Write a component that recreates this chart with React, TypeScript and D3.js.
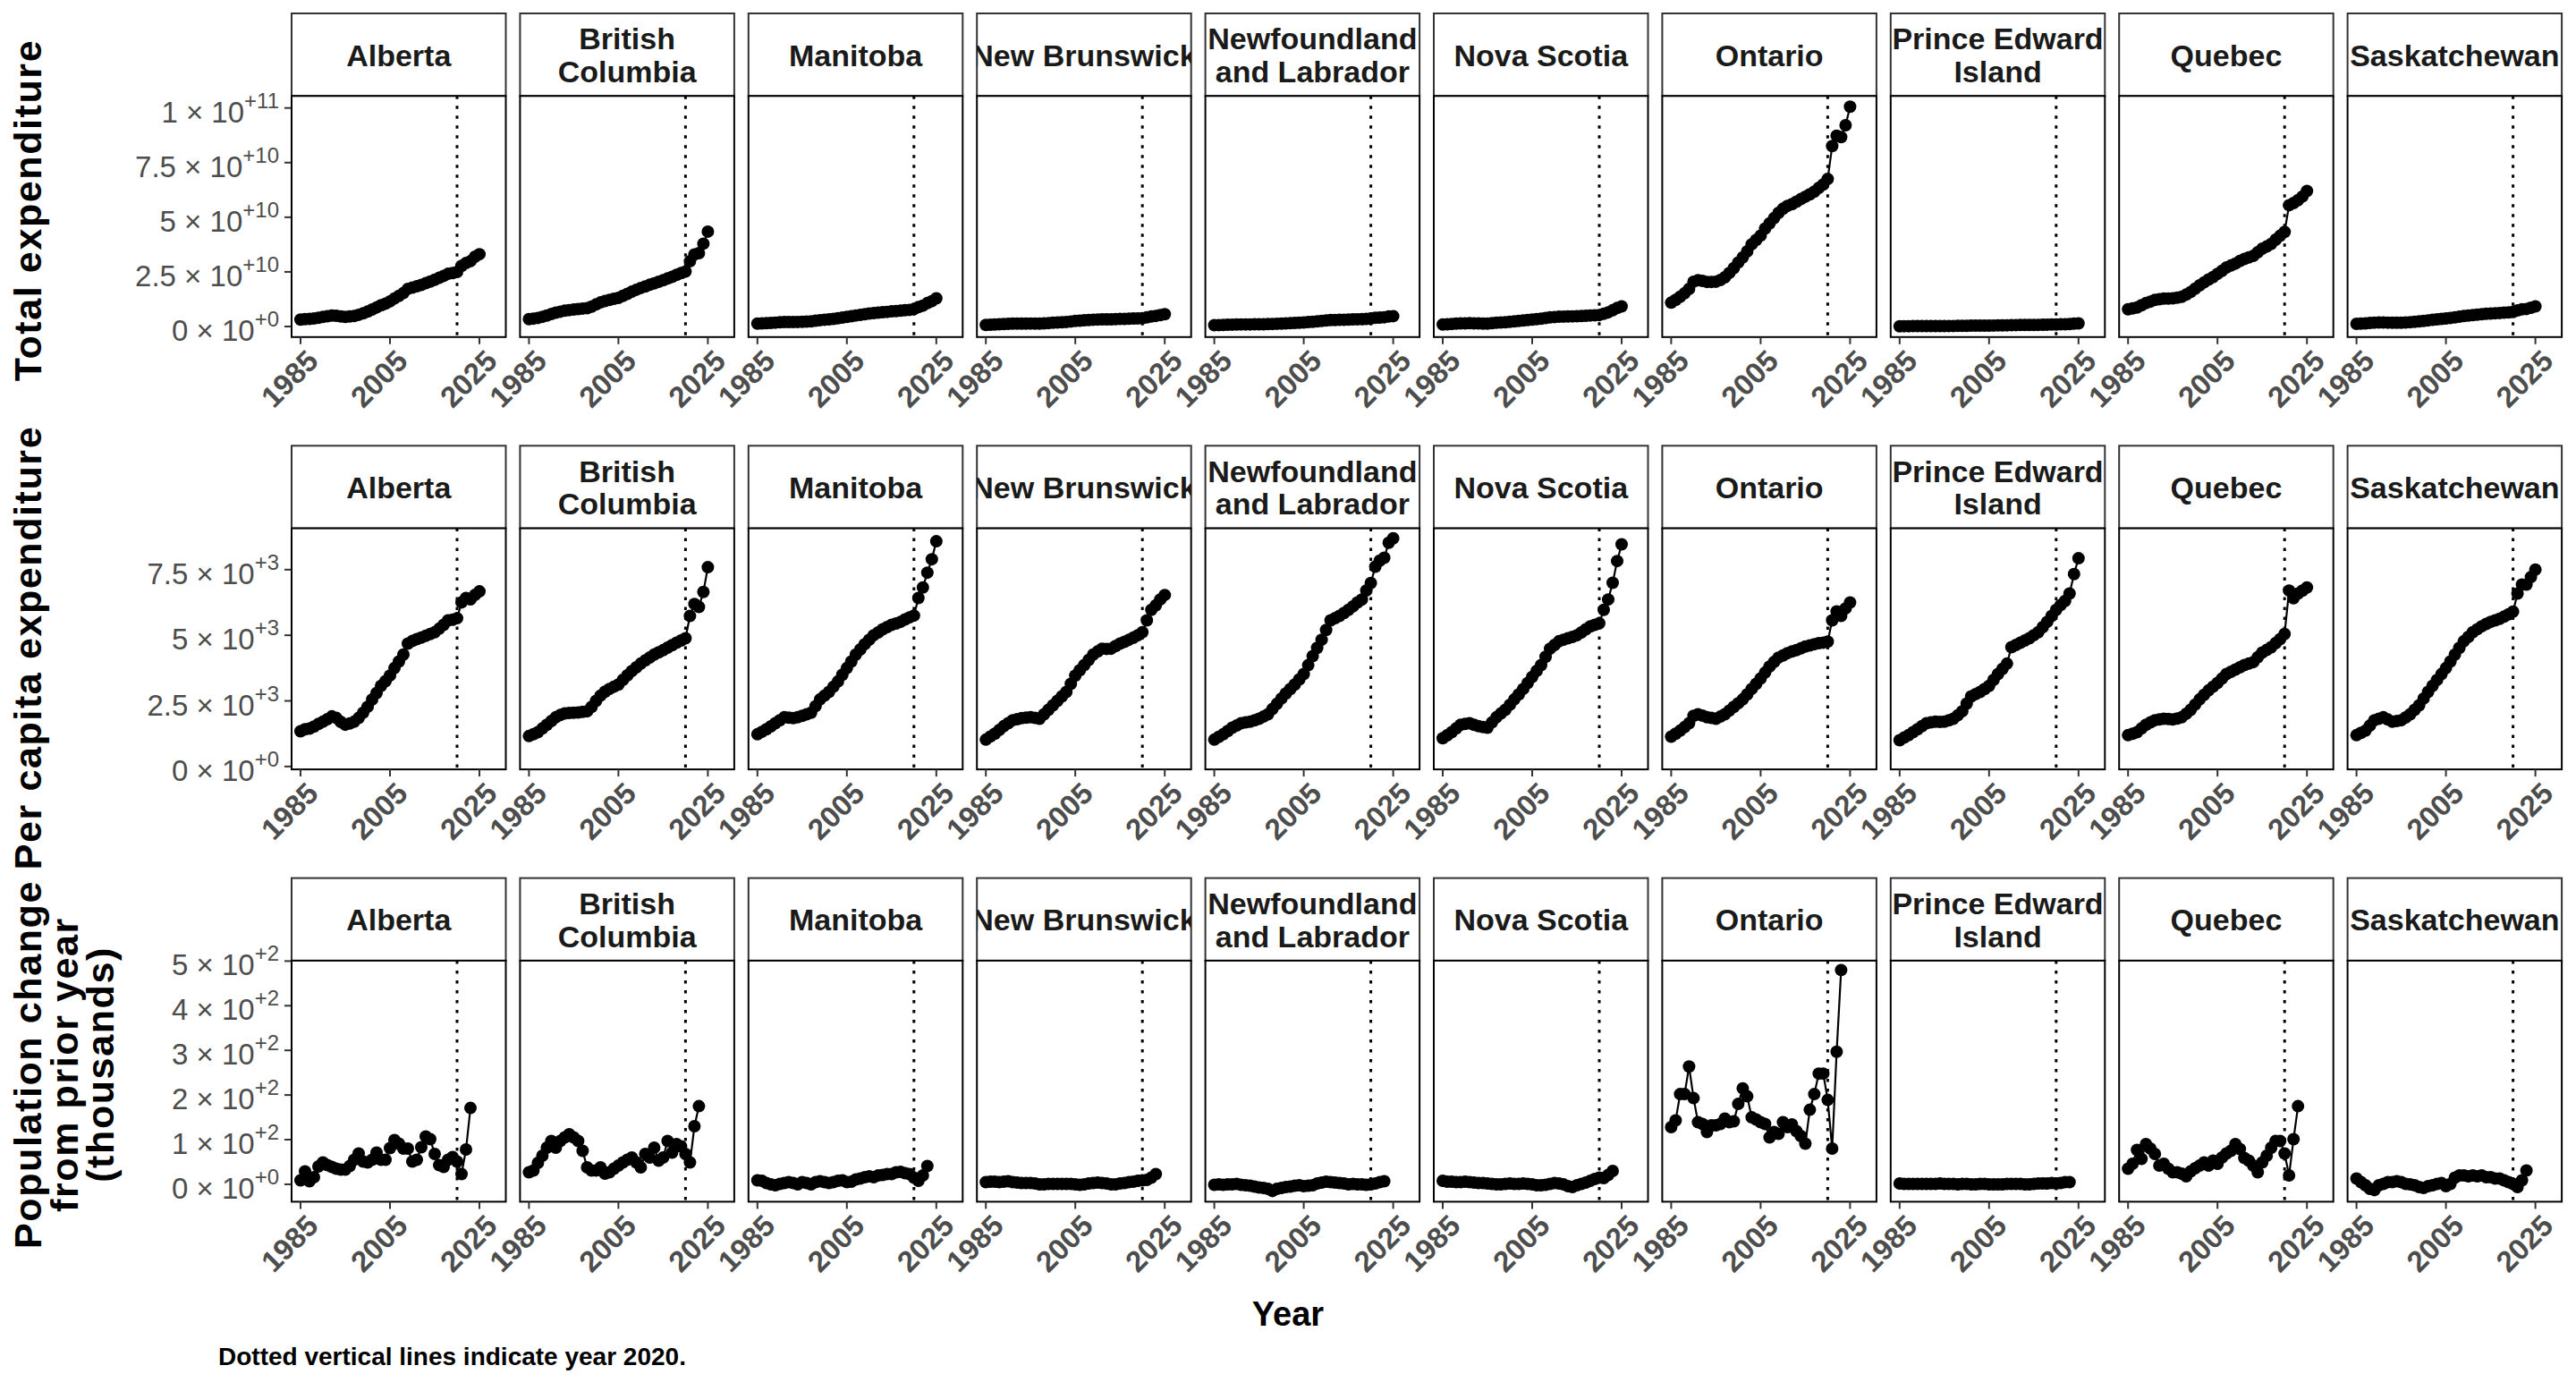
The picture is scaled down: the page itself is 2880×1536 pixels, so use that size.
import React from 'react';
import * as d3 from 'd3';

// provinces shown left to right in every row
const provinces = [
  'Alberta', 'British Columbia', 'Manitoba', 'New Brunswick', 'Newfoundland and Labrador',
  'Nova Scotia', 'Ontario', 'Prince Edward Island', 'Quebec', 'Saskatchewan',
];
const stripLines = [
  ['Alberta'], ['British', 'Columbia'], ['Manitoba'], ['New Brunswick'], ['Newfoundland', 'and Labrador'],
  ['Nova Scotia'], ['Ontario'], ['Prince Edward', 'Island'], ['Quebec'], ['Saskatchewan'],
];

const expYears = [
  1985, 1986, 1987, 1988, 1989, 1990, 1991, 1992, 1993, 1994, 1995, 1996, 1997, 1998,
  1999, 2000, 2001, 2002, 2003, 2004, 2005, 2006, 2007, 2008, 2009, 2010, 2011, 2012,
  2013, 2014, 2015, 2016, 2017, 2018, 2019, 2020, 2021, 2022, 2023, 2024, 2025,
];
const popYears = expYears.slice(0, 39); // 1985 - 2023

// total expenditure, billions of dollars
const totAB = [3.16, 3.38, 3.44, 3.66, 4.0, 4.35, 4.66, 5.02, 4.92, 4.59, 4.38, 4.56, 4.83, 5.37, 6.05, 6.82, 7.8, 8.74, 9.73, 10.47, 11.51, 12.83, 14.04, 15.3, 17.24, 17.83, 18.38, 19.05, 19.82, 20.6, 21.38, 22.26, 23.17, 24.12, 24.48, 24.97, 27.76, 29.03, 29.92, 31.96, 33.09];
const totBC = [3.38, 3.63, 3.92, 4.45, 5.01, 5.69, 6.32, 6.8, 7.22, 7.51, 7.73, 7.97, 8.22, 8.37, 9.11, 10.1, 11.02, 11.69, 12.17, 12.65, 13.13, 14.03, 14.96, 15.93, 16.82, 17.64, 18.34, 19.09, 19.78, 20.45, 21.19, 21.97, 22.73, 23.63, 24.43, 25.17, 29.84, 32.95, 33.56, 37.9, 43.43];
const totMB = [1.33, 1.43, 1.54, 1.66, 1.79, 1.94, 2.07, 2.05, 2.04, 2.09, 2.18, 2.25, 2.32, 2.61, 2.91, 3.11, 3.27, 3.5, 3.74, 4.06, 4.43, 4.73, 5.06, 5.33, 5.6, 5.89, 6.15, 6.33, 6.53, 6.69, 6.96, 7.09, 7.28, 7.45, 7.62, 7.94, 8.86, 9.55, 10.71, 11.61, 12.87];
const totNB = [0.74, 0.82, 0.9, 1.0, 1.11, 1.2, 1.28, 1.31, 1.34, 1.36, 1.37, 1.35, 1.33, 1.46, 1.58, 1.71, 1.83, 1.95, 2.08, 2.3, 2.53, 2.68, 2.82, 2.96, 3.12, 3.21, 3.3, 3.3, 3.3, 3.38, 3.45, 3.5, 3.57, 3.64, 3.72, 3.76, 4.15, 4.56, 4.85, 5.22, 5.62];
const totNL = [0.59, 0.66, 0.71, 0.78, 0.86, 0.9, 0.96, 0.97, 0.97, 0.99, 1.01, 1.04, 1.08, 1.17, 1.26, 1.36, 1.45, 1.54, 1.63, 1.73, 1.83, 2.0, 2.18, 2.35, 2.51, 2.72, 2.93, 2.98, 3.04, 3.1, 3.16, 3.24, 3.31, 3.35, 3.5, 3.64, 3.96, 4.1, 4.23, 4.59, 4.74];
const totNS = [0.95, 1.05, 1.16, 1.29, 1.42, 1.46, 1.49, 1.44, 1.39, 1.36, 1.34, 1.53, 1.71, 1.84, 1.97, 2.18, 2.38, 2.56, 2.75, 2.96, 3.18, 3.4, 3.61, 3.91, 4.2, 4.34, 4.48, 4.54, 4.59, 4.64, 4.7, 4.81, 4.93, 5.06, 5.16, 5.27, 5.83, 6.49, 7.42, 8.46, 9.23];
const totON = [10.9, 12.2, 13.6, 15.2, 17.2, 20.5, 21.2, 20.9, 20.4, 20.4, 20.5, 21.3, 22.5, 24.5, 26.7, 29.3, 31.6, 34.4, 37.6, 39.6, 41.6, 44.8, 47.2, 49.6, 52.0, 53.9, 55.2, 56.0, 57.1, 58.3, 59.4, 60.5, 61.7, 63.4, 65.0, 67.5, 82.6, 87.3, 86.7, 92.1, 100.6];
const totPE = [0.13, 0.14, 0.15, 0.17, 0.18, 0.2, 0.21, 0.22, 0.23, 0.23, 0.23, 0.24, 0.25, 0.27, 0.29, 0.33, 0.36, 0.38, 0.39, 0.41, 0.42, 0.45, 0.49, 0.51, 0.55, 0.64, 0.66, 0.68, 0.69, 0.71, 0.73, 0.76, 0.8, 0.85, 0.9, 0.95, 0.99, 1.05, 1.13, 1.29, 1.43];
const totQC = [7.9, 8.3, 8.7, 9.7, 10.7, 11.4, 12.2, 12.5, 12.8, 12.8, 12.9, 13.2, 13.6, 14.6, 15.8, 17.3, 18.8, 20.2, 21.5, 22.6, 24.1, 25.5, 27.0, 27.9, 28.8, 30.0, 30.9, 31.6, 32.3, 34.0, 35.6, 36.6, 37.8, 39.7, 41.5, 43.3, 55.5, 56.5, 57.8, 59.5, 62.0];
const totSK = [1.22, 1.31, 1.39, 1.59, 1.79, 1.83, 1.87, 1.79, 1.7, 1.72, 1.75, 1.86, 1.98, 2.15, 2.31, 2.56, 2.8, 3.02, 3.24, 3.46, 3.69, 3.94, 4.21, 4.5, 4.79, 5.01, 5.24, 5.44, 5.63, 5.8, 5.95, 6.07, 6.19, 6.31, 6.43, 6.61, 7.39, 7.83, 8.03, 8.59, 9.19];

// per capita expenditure, dollars
const pcAB = [1343, 1420, 1445, 1520, 1620, 1705, 1800, 1909, 1850, 1700, 1592, 1640, 1705, 1850, 2050, 2274, 2550, 2800, 3069, 3250, 3467, 3750, 4000, 4262, 4684, 4780, 4850, 4910, 4980, 5050, 5114, 5250, 5400, 5570, 5590, 5650, 6253, 6423, 6366, 6536, 6672];
const pcBC = [1159, 1230, 1307, 1450, 1591, 1730, 1875, 1960, 2023, 2040, 2046, 2060, 2080, 2103, 2273, 2500, 2700, 2850, 2955, 3040, 3125, 3300, 3470, 3637, 3780, 3921, 4040, 4150, 4262, 4350, 4432, 4530, 4620, 4716, 4800, 4887, 5739, 6194, 6080, 6649, 7592];
const pcMB = [1227, 1320, 1421, 1530, 1648, 1760, 1875, 1860, 1841, 1880, 1932, 1990, 2046, 2300, 2557, 2700, 2841, 3040, 3239, 3500, 3750, 4000, 4262, 4460, 4660, 4830, 5001, 5110, 5228, 5310, 5398, 5450, 5512, 5600, 5682, 5750, 6421, 6819, 7387, 7898, 8580];
const pcNB = [1023, 1140, 1250, 1390, 1534, 1650, 1762, 1800, 1841, 1860, 1875, 1850, 1818, 1990, 2159, 2330, 2500, 2670, 2841, 3150, 3466, 3670, 3864, 4060, 4262, 4380, 4489, 4480, 4489, 4590, 4682, 4750, 4830, 4910, 5001, 5114, 5569, 5966, 6137, 6364, 6535];
const pcNL = [1023, 1130, 1227, 1350, 1477, 1560, 1648, 1680, 1705, 1760, 1818, 1900, 1989, 2190, 2387, 2590, 2784, 2950, 3125, 3320, 3523, 3860, 4205, 4520, 4830, 5200, 5569, 5650, 5739, 5850, 5966, 6100, 6251, 6364, 6705, 6989, 7614, 7842, 7955, 8524, 8694];
const pcNS = [1080, 1190, 1307, 1450, 1591, 1620, 1648, 1590, 1534, 1500, 1477, 1680, 1875, 2020, 2159, 2350, 2557, 2750, 2955, 3180, 3410, 3640, 3864, 4180, 4489, 4630, 4773, 4830, 4887, 4940, 5001, 5110, 5228, 5340, 5400, 5455, 5966, 6364, 7000, 7830, 8466];
const pcON = [1137, 1250, 1364, 1500, 1648, 1932, 1989, 1940, 1875, 1850, 1818, 1900, 1989, 2130, 2273, 2410, 2557, 2750, 2955, 3150, 3353, 3580, 3807, 3980, 4148, 4230, 4319, 4380, 4432, 4500, 4569, 4610, 4660, 4700, 4720, 4760, 5569, 5910, 5739, 6023, 6251];
const pcPE = [1000, 1100, 1193, 1310, 1421, 1540, 1648, 1680, 1705, 1700, 1705, 1760, 1818, 1950, 2103, 2400, 2671, 2760, 2841, 2950, 3069, 3300, 3523, 3720, 3921, 4546, 4630, 4716, 4800, 4887, 5000, 5114, 5310, 5512, 5740, 5966, 6150, 6307, 6592, 7330, 7933];
const pcQC = [1193, 1250, 1307, 1450, 1591, 1680, 1762, 1790, 1818, 1810, 1796, 1830, 1875, 2010, 2159, 2360, 2557, 2730, 2898, 3040, 3182, 3350, 3523, 3610, 3694, 3780, 3864, 3920, 3978, 4160, 4341, 4440, 4546, 4700, 4850, 5050, 6705, 6410, 6590, 6700, 6819];
const pcSK = [1193, 1280, 1364, 1560, 1762, 1820, 1875, 1790, 1705, 1730, 1762, 1870, 1989, 2160, 2330, 2590, 2841, 3070, 3296, 3520, 3750, 4000, 4262, 4520, 4773, 4940, 5114, 5230, 5341, 5430, 5512, 5570, 5626, 5710, 5796, 5900, 6592, 6933, 6933, 7217, 7501];

// population change from prior year, thousands
const popAB = [9, 29, 7, 16, 40, 49, 43, 39, 35, 33, 33, 41, 55, 69, 51, 49, 55, 71, 55, 55, 81, 99, 91, 80, 80, 51, 55, 83, 107, 101, 68, 43, 39, 55, 61, 51, 23, 78, 171];
const popBC = [27, 31, 48, 64, 82, 97, 82, 97, 105, 112, 105, 97, 75, 38, 31, 31, 38, 24, 27, 35, 42, 49, 55, 60, 49, 38, 68, 60, 82, 53, 60, 97, 71, 90, 85, 68, 49, 130, 175];
const popMB = [9, 8, 3, 0, -2, 1, 3, 5, 3, 0, 5, 3, 0, 5, 7, 5, 3, 5, 8, 9, 5, 6, 11, 13, 16, 18, 16, 20, 21, 23, 23, 27, 28, 25, 23, 15, 8, 20, 41];
const popNB = [5, 6, 6, 5, 6, 7, 5, 4, 3, 3, 3, 2, 0, 0, 1, 1, 1, 1, 1, 1, 0, -1, 0, 2, 3, 4, 3, 2, 0, 0, 2, 3, 5, 6, 8, 9, 10, 15, 23];
const popNL = [-1, 0, -1, 0, 0, 1, -1, -2, -3, -5, -7, -8, -10, -15, -10, -8, -6, -5, -3, -2, -4, -3, -2, 2, 4, 6, 5, 4, 3, 2, 0, 1, 0, 0, -1, 0, 2, 5, 7];
const popNS = [8, 6, 6, 5, 5, 6, 5, 4, 3, 3, 2, 1, 0, 0, 1, 2, 1, 1, 2, 1, 0, -2, -2, -1, 1, 3, 2, 0, -4, -6, -2, 1, 4, 8, 12, 15, 14, 21, 30];
const popON = [128, 143, 202, 202, 264, 193, 139, 135, 117, 132, 132, 135, 147, 139, 141, 180, 215, 197, 150, 145, 139, 135, 105, 117, 113, 139, 128, 134, 119, 108, 91, 167, 202, 248, 248, 189, 80, 297, 480];
const popPE = [2, 1, 1, 1, 1, 1, 1, 1, 1, 2, 1, 1, 1, 0, 1, 1, 0, 0, 1, 1, 0, 0, 0, 0, 1, 1, 1, 1, 0, 0, 1, 2, 2, 2, 3, 2, 3, 5, 5];
const popQC = [35, 46, 77, 57, 90, 80, 68, 42, 46, 35, 27, 27, 24, 18, 29, 36, 42, 49, 42, 53, 46, 60, 69, 75, 90, 79, 59, 53, 42, 27, 49, 64, 82, 97, 97, 69, 20, 101, 175];
const popSK = [13, 5, -2, -10, -13, -2, 1, 5, 5, 7, 5, 1, 0, -2, -6, -8, -4, -2, 1, 3, -4, 1, 15, 20, 20, 18, 20, 18, 20, 16, 16, 13, 13, 9, 5, 1, -6, 9, 31];

const xTicks = [1985, 2005, 2025];
const markerYear = 2020;

const rows = [
  {
    title: ['Total expenditure'],
    series: [totAB, totBC, totMB, totNB, totNL, totNS, totON, totPE, totQC, totSK],
    unit: 1e9,
    years: expYears,
    domain: [-4.83e9, 1.0549e11],
    ticks: [0, 2.5e10, 5e10, 7.5e10, 1e11],
    titleY: 235,
  },
  {
    title: ['Per capita expenditure'],
    series: [pcAB, pcBC, pcMB, pcNB, pcNL, pcNS, pcON, pcPE, pcQC, pcSK],
    unit: 1,
    years: expYears,
    domain: [-110, 9075],
    ticks: [0, 2500, 5000, 7500],
    titleY: 724,
  },
  {
    title: ['Population change', 'from prior year', '(thousands)'],
    series: [popAB, popBC, popMB, popNB, popNL, popNS, popON, popPE, popQC, popSK],
    unit: 1,
    years: popYears,
    domain: [-39, 501],
    ticks: [0, 100, 200, 300, 400, 500],
    titleY: 1190,
  },
];

const W = 2880;
const H = 1536;
const PANEL_X0 = 326;
const PANEL_STEP = 255.4;
const PANEL_W = 239.5;
const ROW_TOPS = [15, 498.3, 981.6];
const STRIP_H = 92.3;
const PANEL_H = 269.5;
const FONT = "'Liberation Sans', Arial, Helvetica, sans-serif";
const AXIS_GREY = '#4d4d4d';

function sciParts(v: number) {
  if (v === 0) return { m: '0', e: '+0' };
  const e = Math.floor(Math.log10(v) + 1e-9);
  const m = Number((v / Math.pow(10, e)).toPrecision(6));
  return { m: String(m), e: '+' + e };
}

const App: React.FC = () => {
  return (
    <svg
      width={W}
      height={H}
      viewBox={`0 0 ${W} ${H}`}
      style={{ position: 'absolute', left: 0, top: 0, display: 'block', background: '#fff' }}
      fontFamily={FONT}
    >
      <rect x={0} y={0} width={W} height={H} fill="#fff" />
      <defs>
        {rows.map((_, r) =>
          provinces.map((_, c) => (
            <clipPath key={`clip-${r}-${c}`} id={`strip-${r}-${c}`}>
              <rect x={PANEL_X0 + c * PANEL_STEP} y={ROW_TOPS[r]} width={PANEL_W} height={STRIP_H} />
            </clipPath>
          ))
        )}
      </defs>

      {rows.map((row, r) => {
        const stripTop = ROW_TOPS[r];
        const top = stripTop + STRIP_H;
        const bottom = top + PANEL_H;
        const y = d3.scaleLinear().domain(row.domain).range([bottom, top]);
        return (
          <g key={`row-${r}`}>
            {/* row title */}
            {row.title.map((t, i) => (
              <text
                key={`title-${i}`}
                transform={`translate(${46 + i * 40.5},${row.titleY}) rotate(-90)`}
                textAnchor="middle"
                fontSize={43}
                fontWeight="bold"
                letterSpacing={1.6}
                fill="#000"
              >
                {t}
              </text>
            ))}

            {/* y axis labels on the first column */}
            {row.ticks.map((t) => {
              const p = sciParts(t);
              return (
                <g key={`yt-${t}`}>
                  <line x1={PANEL_X0 - 8} x2={PANEL_X0} y1={y(t)} y2={y(t)} stroke="#333" strokeWidth={2} />
                  <text x={312} y={y(t) + 16} textAnchor="end" fontSize={33} fill={AXIS_GREY}>
                    <tspan>{p.m} × 10</tspan>
                    <tspan dy={-16} fontSize={24}>{p.e}</tspan>
                  </text>
                </g>
              );
            })}

            {provinces.map((prov, c) => {
              const left = PANEL_X0 + c * PANEL_STEP;
              const x = d3.scaleLinear().domain([1983, 2030.9]).range([left, left + PANEL_W]);
              const vals = row.series[c];
              const line = d3
                .line<number>()
                .x((_, i) => x(row.years[i]))
                .y((d) => y(d * row.unit));
              const lines = stripLines[c];
              const cy = stripTop + STRIP_H / 2 + 12.5;
              return (
                <g key={prov}>
                  {/* strip */}
                  <rect x={left} y={stripTop} width={PANEL_W} height={STRIP_H} fill="#fff" stroke="#333" strokeWidth={2} />
                  <g clipPath={`url(#strip-${r}-${c})`}>
                    {lines.map((ln, i) => (
                      <text
                        key={ln}
                        x={left + PANEL_W / 2}
                        y={cy + (i - (lines.length - 1) / 2) * 36.7}
                        textAnchor="middle"
                        fontSize={34}
                        fontWeight="bold"
                        fill="#1a1a1a"
                      >
                        {ln}
                      </text>
                    ))}
                  </g>

                  {/* panel */}
                  <rect x={left} y={top} width={PANEL_W} height={PANEL_H} fill="#fff" />
                  <line
                    x1={x(markerYear)}
                    x2={x(markerYear)}
                    y1={top}
                    y2={bottom}
                    stroke="#000"
                    strokeWidth={3}
                    strokeDasharray="3.5 7.5"
                  />
                  <path d={line(vals) || ''} fill="none" stroke="#000" strokeWidth={2.2} />
                  {vals.map((v, i) => (
                    <circle key={i} cx={x(row.years[i])} cy={y(v * row.unit)} r={7} fill="#000" />
                  ))}
                  <rect x={left} y={top} width={PANEL_W} height={PANEL_H} fill="none" stroke="#000" strokeWidth={2} />

                  {/* x axis */}
                  {xTicks.map((t) => (
                    <g key={t}>
                      <line x1={x(t)} x2={x(t)} y1={bottom} y2={bottom + 8} stroke="#333" strokeWidth={2} />
                      <text
                        transform={`translate(${x(t) + 5},${bottom + 12}) rotate(-45)`}
                        textAnchor="end"
                        dy="0.72em"
                        fontSize={33}
                        fontWeight="bold"
                        fill={AXIS_GREY}
                      >
                        {t}
                      </text>
                    </g>
                  ))}
                </g>
              );
            })}
          </g>
        );
      })}

      <text x={1440} y={1482} textAnchor="middle" fontSize={38} fontWeight="bold" fill="#000">
        Year
      </text>
      <text x={244} y={1526} fontSize={28} fontWeight="bold" fill="#000">
        Dotted vertical lines indicate year 2020.
      </text>
    </svg>
  );
};

export default App;
